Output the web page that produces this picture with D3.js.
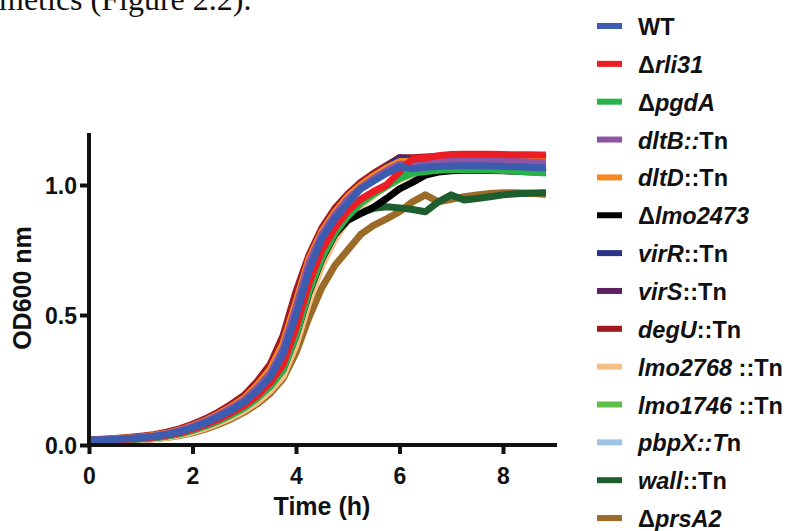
<!DOCTYPE html>
<html>
<head>
<meta charset="utf-8">
<script src="https://cdn.jsdelivr.net/npm/d3@7"></script>
<style>
  body { margin: 0; background: #fff; }
  svg { display: block; }
  text { font-family: "Liberation Sans", Arial, sans-serif; font-weight: bold; fill: #111; }
</style>
</head>
<body>
<div id="main"></div>
<script>
// sampling times (h)
var TIME_H = [0,0.25,0.5,0.75,1,1.25,1.5,1.75,2,2.25,2.5,2.75,3,3.25,3.5,3.75,4,4.25,4.5,4.75,5,5.25,5.5,5.75,6,6.25,6.5,6.75,7,7.25,7.5,7.75,8,8.25,8.5,8.75,8.83];

// OD600 readings per strain
var OD_WT      = [.018,.019,.021,.024,.028,.033,.040,.051,.066,.085,.108,.134,.165,.207,.26,.35,.50,.67,.795,.87,.93,.985,1.015,1.045,1.07,1.062,1.068,1.071,1.073,1.074,1.074,1.073,1.072,1.07,1.068,1.066,1.065];
var OD_RLI31   = [.016,.017,.019,.022,.026,.030,.037,.047,.061,.078,.099,.124,.152,.19,.24,.31,.45,.62,.75,.835,.90,.945,.975,1.0,1.05,1.10,1.105,1.113,1.117,1.118,1.118,1.118,1.117,1.116,1.116,1.115,1.115];
var OD_PGDA    = [.015,.016,.018,.020,.024,.028,.034,.043,.056,.072,.092,.116,.143,.18,.225,.29,.42,.59,.72,.815,.88,.93,.965,.995,1.025,1.045,1.052,1.057,1.06,1.06,1.06,1.058,1.056,1.053,1.05,1.047,1.046];
var OD_DLTB    = [.019,.020,.022,.026,.030,.035,.043,.055,.071,.091,.115,.142,.173,.22,.275,.37,.53,.70,.81,.885,.945,.99,1.025,1.055,1.08,1.08,1.085,1.09,1.092,1.093,1.093,1.092,1.091,1.09,1.088,1.086,1.085];
var OD_DLTD    = [.019,.020,.023,.027,.031,.037,.045,.057,.074,.094,.119,.147,.18,.23,.29,.39,.55,.715,.82,.895,.955,1.0,1.035,1.065,1.09,1.09,1.095,1.098,1.1,1.1,1.1,1.1,1.099,1.098,1.097,1.096,1.095];
var OD_LMO2473 = [.016,.017,.019,.021,.025,.029,.035,.044,.058,.074,.094,.118,.146,.183,.228,.29,.42,.585,.715,.81,.865,.89,.915,.948,.985,1.01,1.038,1.05,1.055,1.057,1.057,1.056,1.055,1.053,1.051,1.049,1.048];
var OD_VIRR    = [.018,.019,.021,.024,.028,.033,.041,.052,.068,.087,.11,.137,.167,.21,.265,.355,.51,.685,.80,.88,.94,.99,1.03,1.065,1.1,1.1,1.103,1.106,1.108,1.109,1.109,1.108,1.107,1.106,1.105,1.104,1.103];
var OD_VIRS    = [.018,.019,.021,.025,.029,.034,.042,.053,.069,.088,.112,.139,.17,.214,.27,.36,.52,.69,.805,.885,.945,.995,1.035,1.07,1.105,1.1,1.1,1.102,1.104,1.105,1.105,1.104,1.103,1.102,1.1,1.099,1.098];
var OD_DEGU    = [.020,.022,.025,.029,.034,.040,.049,.062,.080,.101,.127,.157,.192,.245,.31,.42,.59,.73,.835,.91,.965,1.01,1.045,1.075,1.105,1.105,1.108,1.11,1.112,1.112,1.112,1.111,1.11,1.109,1.108,1.107,1.106];
var OD_LMO2768 = [.014,.015,.016,.018,.021,.025,.030,.038,.050,.065,.084,.106,.132,.165,.208,.265,.385,.55,.69,.79,.865,.92,.96,.995,1.02,1.04,1.05,1.055,1.058,1.06,1.06,1.058,1.056,1.054,1.052,1.05,1.049];
var OD_LMO1746 = [.015,.016,.018,.021,.025,.029,.035,.045,.058,.075,.095,.12,.148,.186,.232,.30,.435,.605,.73,.82,.885,.935,.97,1.0,1.03,1.05,1.058,1.062,1.065,1.066,1.066,1.065,1.063,1.061,1.059,1.057,1.056];
var OD_PBPX    = [.015,.016,.017,.019,.022,.026,.032,.040,.052,.068,.087,.11,.137,.172,.217,.28,.40,.565,.70,.80,.87,.925,.962,.997,1.025,1.045,1.055,1.06,1.063,1.064,1.064,1.063,1.061,1.059,1.057,1.055,1.054];
var OD_WALL    = [.016,.017,.019,.021,.025,.029,.035,.045,.059,.076,.097,.122,.151,.19,.238,.305,.445,.61,.73,.815,.865,.893,.91,.916,.912,.906,.897,.935,.962,.942,.948,.955,.962,.966,.968,.97,.97];
var OD_PRSA2   = [.013,.014,.015,.017,.020,.024,.029,.036,.047,.061,.079,.10,.126,.158,.198,.255,.355,.49,.605,.69,.75,.81,.845,.87,.897,.935,.962,.935,.945,.955,.962,.967,.97,.97,.968,.965,.963];

// legend labels (<i> = italic part) and colours, in legend order
var LABELS = ["WT", "Δ<i>rli31</i>", "Δ<i>pgdA</i>", "<i>dltB::</i>Tn", "<i>dltD</i>::Tn",
              "Δ<i>lmo2473</i>", "<i>virR</i>::Tn", "<i>virS</i>::Tn", "<i>degU</i>::Tn",
              "<i>lmo2768</i> ::Tn", "<i>lmo1746</i> ::Tn", "<i>pbpX::T</i>n", "<i>wall</i>::Tn", "Δ<i>prsA2</i>"];
var COLORS = ["#3b5caf", "#ec1d25", "#27b24b", "#8d55a4", "#f68a1f", "#000000", "#2c3288",
              "#5c1f5f", "#a11a20", "#f6bf86", "#5ebf46", "#9dc3e7", "#1c5e2d", "#9c6b28"];
var SERIES_VALUES = [OD_WT, OD_RLI31, OD_PGDA, OD_DLTB, OD_DLTD, OD_LMO2473, OD_VIRR, OD_VIRS,
                     OD_DEGU, OD_LMO2768, OD_LMO1746, OD_PBPX, OD_WALL, OD_PRSA2];

var X_TICKS = [0, 2, 4, 6, 8];
var Y_TICKS = [0, 0.5, 1.0];

var W = 789, H = 531;
var svg = d3.select("#main").append("svg").attr("width", W).attr("height", H);

// bit of body text above the figure
svg.append("text")
    .attr("x", -1).attr("y", 10)
    .style("font-family", "'Liberation Serif', 'Times New Roman', serif")
    .style("font-weight", "normal")
    .style("font-size", "32px")
    .text("metics (Figure 2.2).");

var x = d3.scaleLinear().domain([0, 9]).range([89, 554.75]);
var y = d3.scaleLinear().domain([0, 1.2]).range([445, 133]);

// curves, WT on top
var line = d3.line()
    .x(function (d) { return x(d.t); })
    .y(function (d) { return y(d.v); });

var series = SERIES_VALUES.map(function (vals, i) {
    return { color: COLORS[i], pts: vals.map(function (v, j) { return { t: TIME_H[j], v: v }; }) };
});

svg.append("g").selectAll("path")
    .data(series.slice().reverse())
    .enter().append("path")
    .attr("d", function (d) { return line(d.pts); })
    .attr("fill", "none")
    .attr("stroke", function (d) { return d.color; })
    .attr("stroke-width", 7)
    .attr("stroke-linejoin", "round");

// axes
var xAxis = svg.append("g").attr("transform", "translate(0,445)")
    .call(d3.axisBottom(x).tickValues(X_TICKS).tickSize(9).tickPadding(8).tickFormat(d3.format("d")));
var yAxis = svg.append("g").attr("transform", "translate(89,0)")
    .call(d3.axisLeft(y).tickValues(Y_TICKS).tickSize(9).tickPadding(3).tickFormat(d3.format(".1f")));

[xAxis, yAxis].forEach(function (g) {
    g.select(".domain").remove();
    g.selectAll(".tick line").attr("stroke", "#111").attr("stroke-width", 4);
    g.selectAll(".tick text").attr("fill", "#111").style("font-size", "23px")
        .style("font-family", "'Liberation Sans', Arial, sans-serif").style("font-weight", "bold");
});
xAxis.selectAll(".tick text").attr("dy", "0.95em");
yAxis.selectAll(".tick text").attr("dy", "0.36em");

svg.append("line").attr("x1", 87).attr("x2", 557).attr("y1", 445).attr("y2", 445)
    .attr("stroke", "#111").attr("stroke-width", 4);
svg.append("line").attr("x1", 89).attr("x2", 89).attr("y1", 133).attr("y2", 447)
    .attr("stroke", "#111").attr("stroke-width", 4);

svg.append("text").attr("x", 322).attr("y", 515).attr("text-anchor", "middle")
    .style("font-size", "25px").text("Time (h)");
svg.append("text").attr("transform", "translate(31,288) rotate(-90)").attr("text-anchor", "middle")
    .style("font-size", "25px").text("OD600 nm");

// legend
var legend = svg.append("g");
LABELS.forEach(function (lab, i) {
    var ly = 26 + i * 37.85;
    legend.append("line").attr("x1", 597).attr("x2", 622).attr("y1", ly).attr("y2", ly)
        .attr("stroke", COLORS[i]).attr("stroke-width", 6);
    var t = legend.append("text").attr("x", 638).attr("y", ly + 9)
        .style("font-size", "23.5px").style("white-space", "pre");
    lab.split(/(<i>.*?<\/i>)/).forEach(function (part) {
        if (!part) return;
        var it = part.indexOf("<i>") === 0;
        t.append("tspan").style("font-style", it ? "italic" : "normal")
            .text(it ? part.slice(3, -4) : part);
    });
});
</script>
</body>
</html>
